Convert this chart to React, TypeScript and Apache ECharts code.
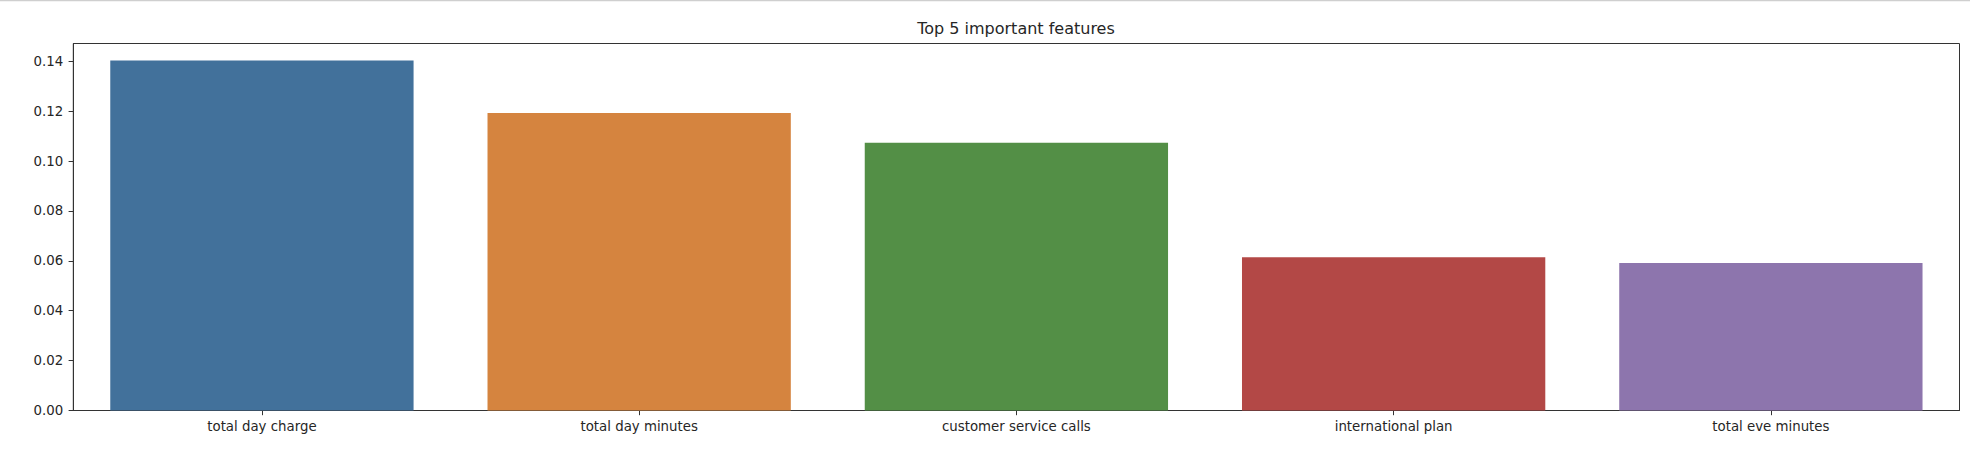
import React, { useEffect, useRef } from "react";
import * as echarts from "echarts";

const categories = [
  "total day charge",
  "total day minutes",
  "customer service calls",
  "international plan",
  "total eve minutes",
];
const importances = [0.1403, 0.1192, 0.1073, 0.0614, 0.0591];
const barColors = ["#42719b", "#d5843f", "#538f46", "#b34846", "#8d75ad"];
const yTicks = [0, 0.02, 0.04, 0.06, 0.08, 0.1, 0.12, 0.14];
const chartTitle = "Top 5 important features";

export default function App() {
  const ref = useRef<HTMLDivElement>(null);
  useEffect(() => {
    if (!ref.current) return;
    const chart = echarts.init(ref.current, undefined, { renderer: "svg" });
    const font = "DejaVu Sans";
    chart.setOption({
      animation: false,
      backgroundColor: "#ffffff",
      graphic: [
        {
          type: "line",
          shape: { x1: 0, y1: 0.5, x2: 1970, y2: 0.5 },
          style: { stroke: "#cfcfcf", lineWidth: 1.5 },
        },
        {
          type: "text",
          x: 1016,
          y: 28,
          style: {
            text: chartTitle,
            fontFamily: font,
            fontSize: 16,
            fill: "#262626",
            align: "center",
            verticalAlign: "middle",
          },
        },
      ],
      grid: {
        left: 73.3,
        top: 43.5,
        right: 10.5,
        bottom: 51.5,
        show: true,
        borderColor: "#333333",
        borderWidth: 1,
        backgroundColor: "transparent",
      },
      xAxis: {
        type: "category",
        data: categories,
        boundaryGap: true,
        axisLine: { show: true, lineStyle: { color: "#333333", width: 1 } },
        axisTick: { show: true, alignWithLabel: true, length: 4.7, lineStyle: { color: "#333333" } },
        axisLabel: { fontFamily: font, fontSize: 13.33, color: "#262626", margin: 9 },
        splitLine: { show: false },
      },
      yAxis: {
        type: "value",
        min: 0,
        max: 0.1471,
        axisLine: { show: true, lineStyle: { color: "#333333", width: 1 } },
        axisTick: { show: true, length: 4.7, lineStyle: { color: "#333333" }, customValues: yTicks },
        axisLabel: {
          fontFamily: font,
          fontSize: 13.33,
          color: "#262626",
          margin: 10,
          customValues: yTicks,
          formatter: (v: number) => v.toFixed(2),
        },
        splitLine: { show: false },
      },
      series: [
        {
          type: "bar",
          data: importances.map((v, i) => ({ value: v, itemStyle: { color: barColors[i] } })),
          barCategoryGap: "19.6%",
        },
      ],
    });
    return () => chart.dispose();
  }, []);
  return (
    <div
      ref={ref}
      style={{ position: "absolute", left: 0, top: 0, width: 1970, height: 462 }}
    />
  );
}
